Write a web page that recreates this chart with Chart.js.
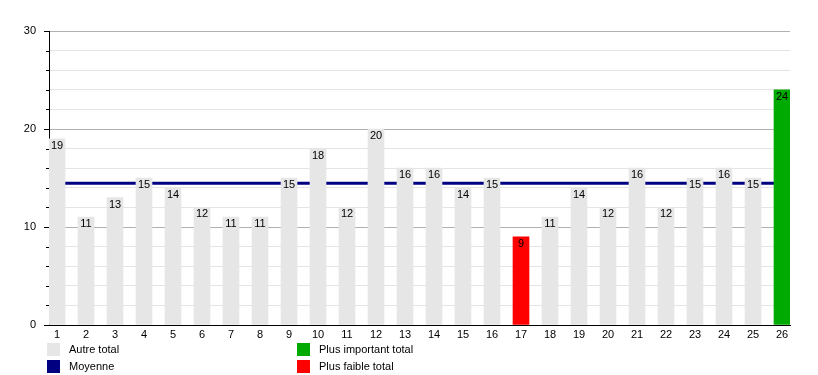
<!DOCTYPE html>
<html>
<head>
<meta charset="utf-8">
<script src="https://cdn.jsdelivr.net/npm/chart.js@4"></script>
<style>
  html, body { margin: 0; padding: 0; background: #fff; }
  #wrap { width: 818px; height: 375px; position: relative; }
</style>
</head>
<body>
<div id="wrap"><canvas id="totals-chart"></canvas></div>
<script>
// categories 1..26 and the totals
const categories = [1, 2, 3, 4, 5, 6, 7, 8, 9, 10, 11, 12, 13, 14, 15, 16, 17, 18, 19, 20, 21, 22, 23, 24, 25, 26];
const totals = [19, 11, 13, 15, 14, 12, 11, 11, 15, 18, 12, 20, 16, 16, 14, 15, 9, 11, 14, 12, 16, 12, 15, 16, 15, 24];
const averageValue = 14.46;
const yTickLabels = [0, 10, 20, 30];

const legendLabels = ['Autre total', 'Moyenne', 'Plus important total', 'Plus faible total'];

const GREY = '#e6e6e6';
const NAVY = '#000080';
const GREEN = '#00aa00';
const RED = '#ff0000';
const FONT = '"Liberation Sans", Arial, sans-serif';

const maxTotal = Math.max(...totals);
const minTotal = Math.min(...totals);
const barColors = totals.map(v => v === maxTotal ? GREEN : (v === minTotal ? RED : GREY));

// value labels drawn just under the top of each bar, plus axis tick marks and legend
const extrasPlugin = {
    id: 'extras',
    afterDatasetsDraw(chart) {
        const c = chart.ctx;
        const meta = chart.getDatasetMeta(1);
        c.save();
        c.font = '11px ' + FONT;
        c.fillStyle = '#000';
        c.textAlign = 'center';
        c.textBaseline = 'middle';
        meta.data.forEach((bar, i) => {
            c.fillText(String(totals[i]), bar.x, bar.y + 7);
        });
        c.restore();
    },
    afterDraw(chart) {
        const c = chart.ctx;
        const y = chart.scales.y;
        const area = chart.chartArea;
        c.save();
        c.strokeStyle = '#000';
        c.lineWidth = 1;
        y.ticks.forEach(t => {
            const py = Math.round(y.getPixelForValue(t.value)) + 0.5;
            const len = t.value % 10 === 0 ? 5 : 3;
            c.beginPath();
            c.moveTo(area.left - len, py);
            c.lineTo(area.left, py);
            c.stroke();
        });

        // legend in two columns
        const colors = [GREY, NAVY, GREEN, RED];
        const cols = [area.left - 2, area.left + 248];
        const rows = [350, 367];
        c.font = '11px ' + FONT;
        c.textAlign = 'left';
        c.textBaseline = 'middle';
        legendLabels.forEach((label, i) => {
            const x = cols[Math.floor(i / 2)];
            const ry = rows[i % 2];
            c.fillStyle = colors[i];
            c.fillRect(x, ry - 7, 13, 13);
            c.fillStyle = '#000';
            c.fillText(label, x + 22, ry);
        });
        c.restore();
    }
};

const ctx = document.getElementById('totals-chart').getContext('2d');

new Chart(ctx, {
    type: 'bar',
    data: {
        datasets: [{
            type: 'line',
            label: 'Moyenne',
            data: categories.map(c => ({x: c, y: averageValue})),
            borderColor: NAVY,
            borderWidth: 3,
            pointRadius: 0,
            fill: false,
            order: 2
        }, {
            type: 'bar',
            label: 'Total',
            data: categories.map((c, i) => ({x: c, y: totals[i]})),
            backgroundColor: barColors,
            barThickness: 16,
            order: 1
        }]
    },
    options: {
        responsive: true,
        maintainAspectRatio: false,
        animation: false,
        layout: {
            padding: {top: 31, right: 28, left: 0, bottom: 0}
        },
        plugins: {
            legend: {display: false},
            tooltip: {enabled: false}
        },
        scales: {
            x: {
                type: 'linear',
                offset: false,
                min: 1 - 8 / 29,
                max: 26 + 8 / 29,
                afterBuildTicks: scale => {
                    scale.ticks = categories.map(v => ({value: v}));
                },
                afterFit: scale => { scale.height = 50; },
                grid: {display: false, drawTicks: false},
                border: {color: '#000', width: 1},
                ticks: {
                    color: '#000',
                    padding: 3,
                    font: {family: FONT, size: 11},
                    autoSkip: false,
                    maxRotation: 0
                }
            },
            y: {
                min: 0,
                max: 30,
                afterFit: scale => { scale.width = 49; },
                border: {color: '#000', width: 1},
                grid: {
                    drawTicks: false,
                    color: c => c.tick.value % 10 === 0 ? '#b0b0b0' : '#e4e4e4'
                },
                ticks: {
                    stepSize: 2,
                    padding: 13,
                    color: '#000',
                    font: {family: FONT, size: 11},
                    callback: v => yTickLabels.includes(v) ? String(v) : ''
                }
            }
        }
    },
    plugins: [extrasPlugin]
});
</script>
</body>
</html>
